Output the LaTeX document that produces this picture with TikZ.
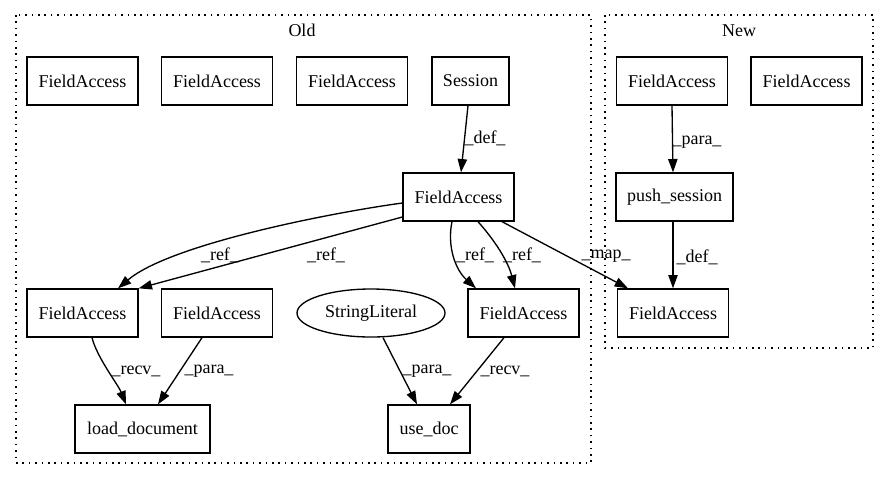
\documentclass[tikz,border=0pt]{standalone}
\usepackage{fontspec}
\setmainfont{Liberation Serif}
\usetikzlibrary{arrows.meta,calc,shapes.geometric}
\begin{document}
\begin{tikzpicture}[x=0.75pt,y=-0.75pt,
  box/.style={draw, rectangle, line width=1pt, minimum height=36pt, minimum width=83.25pt, inner sep=0pt, font=\fontsize{13.5}{16}\selectfont},
  oval/.style={draw, ellipse, line width=1pt, minimum height=36pt, minimum width=111pt, inner sep=0pt, font=\fontsize{13.5}{16}\selectfont},
  lab/.style={inner sep=0pt, font=\fontsize{13.5}{16}\selectfont},
  edge/.style={-{Triangle[length=10pt,width=7pt]}, line width=1pt},
  cluster/.style={line width=1pt, dash pattern=on 1.2pt off 3.6pt}]
\useasboundingbox (0,0) rectangle (889,480);
% clusters
\draw[cluster] (16,15) rectangle (591,463);
\draw[cluster] (605,15) rectangle (873,348);
\node[lab] (oldlab) at (302,30) {Old};
\node[lab] (newlab) at (739,31) {New};
% Old nodes
\node[box] (fa1) at (82.5,81) {FieldAccess};
\node[box] (fa2) at (217,81) {FieldAccess};
\node[box] (fa3) at (352,81) {FieldAccess};
\node[box, minimum width=57.75pt] (session) at (470.5,81) {Session};
\node[box] (mid) at (458.5,197) {FieldAccess};
\node[box] (fal) at (82.5,313) {FieldAccess};
\node[box] (fa4) at (217,313) {FieldAccess};
\node[oval] (sl) at (371,313) {StringLiteral};
\node[box] (far) at (523.5,313) {FieldAccess};
\node[box, minimum width=101.25pt] (ld) at (142.5,429) {load\_document};
\node[box, minimum width=61.5pt] (ud) at (429,429) {use\_doc};
% New nodes
\node[box] (fat) at (672,81) {FieldAccess};
\node[box] (fan2) at (806.5,81) {FieldAccess};
\node[box, minimum width=87.75pt] (push) at (674.5,197) {push\_session};
\node[box] (fnb) at (673,313) {FieldAccess};
% edges
\draw[edge] ($(session.south)+(-2.5,0)$) -- ($(mid.north)+(2.5,0)$);
\node[lab] (l1) at (485,138) {\_def\_};
\draw[edge] ($(mid.west)+(0,6)$) .. controls +(-73,10) and +(52,-44) .. ($(fal.north)+(35.5,0)$);
\node[lab] (l2) at (220,255) {\_ref\_};
\draw[edge] ($(mid.west)+(0,20)$) -- (fal.north east);
\node[lab] (l3) at (326,255) {\_ref\_};
\draw[edge] ($(mid.south)+(-6.5,0)$) .. controls +(-5,24) and +(-21,-19) .. ($(far.north)+(-47.5,0)$);
\node[lab] (l4) at (475,255) {\_ref\_};
\draw[edge] ($(mid.south)+(19.5,0)$) .. controls +(17,19) and +(-7,-27) .. ($(far.north)+(-8.5,0)$);
\node[lab] (l5) at (522,255) {\_ref\_};
\draw[edge] ($(mid.south)+(43.5,0)$) -- ($(fnb.north)+(-45,0)$);
\node[lab] (l6) at (606,256) {\_map\_};
\draw[edge] ($(fal.south)+(9.5,0)$) .. controls +(5,20) and +(-8,-20) .. ($(ld.north)+(-16.5,0)$);
\node[lab] (l7) at (136,371) {\_recv\_};
\draw[edge] ($(fa4.south)+(-15,0)$) -- ($(ld.north)+(15.5,0)$);
\node[lab] (l8) at (209,371) {\_para\_};
\draw[edge] ($(sl.south)+(12,0)$) -- ($(ud.north)+(-12,0)$);
\node[lab] (l9) at (427,371) {\_para\_};
\draw[edge] ($(far.south)+(-19.5,0)$) -- ($(ud.north)+(21,0)$);
\node[lab] (l10) at (505,371) {\_recv\_};
\draw[edge] (fat.south) -- ($(push.north)+(-1.5,0)$);
\node[lab] (l11) at (697,142) {\_para\_};
\draw[edge] ($(push.south)+(-1.5,0)$) -- (fnb.north);
\node[lab] (l12) at (697,257) {\_def\_};
\end{tikzpicture}
\end{document}
